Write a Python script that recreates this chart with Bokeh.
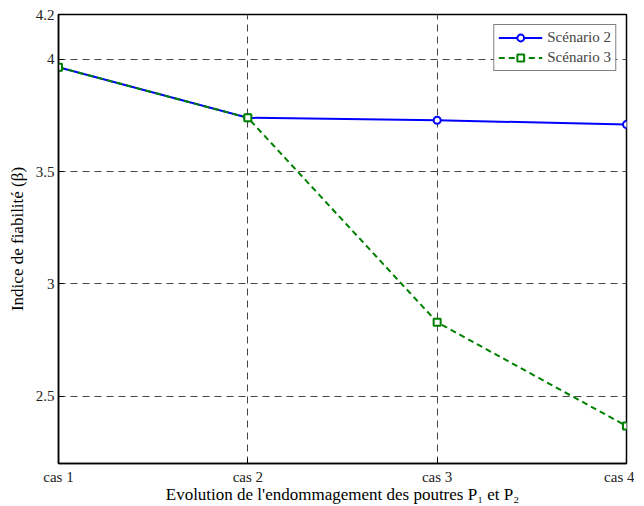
from bokeh.plotting import figure
from bokeh.models import Legend, LegendItem, FixedTicker, Range1d
from bokeh.embed import file_html
from bokeh.resources import INLINE

cases = [1, 2, 3, 4]
case_labels = ["cas 1", "cas 2", "cas 3", "cas 4"]
scenario2 = [3.965, 3.740, 3.729, 3.710]
scenario3 = [3.965, 3.740, 2.829, 2.367]
y_ticks = [2.5, 3, 3.5, 4, 4.2]

FONT = "Liberation Serif"

p = figure(frame_width=568, frame_height=449, width=634, height=504,
           x_range=Range1d(1, 4), y_range=Range1d(2.2, 4.2),
           output_backend="svg", toolbar_location=None,
           min_border_left=58, min_border_top=14, min_border_right=8, min_border_bottom=41)

p.background_fill_color = "white"
p.border_fill_color = "white"
p.outline_line_color = "black"
p.outline_line_width = 1.5

# axes
p.xaxis.ticker = FixedTicker(ticks=cases)
p.xaxis.major_label_overrides = {c: l for c, l in zip(cases, case_labels)}
p.yaxis.ticker = FixedTicker(ticks=y_ticks)
p.yaxis.major_label_overrides = {2.5: "2.5", 3: "3", 3.5: "3.5", 4: "4", 4.2: "4.2"}
for ax in (p.xaxis[0], p.yaxis[0]):
    ax.axis_line_color = "black"
    ax.axis_line_width = 1.5
    ax.major_tick_in = 5
    ax.major_tick_out = 0
    ax.minor_tick_line_color = None
    ax.major_label_text_font = FONT
    ax.major_label_text_font_size = "15px"
    ax.major_label_text_color = "#222222"
    ax.axis_label_text_font = FONT
    ax.axis_label_text_font_size = "17px"
    ax.axis_label_text_font_style = "normal"
    ax.axis_label_text_color = "black"
p.xaxis.major_label_standoff = 5
p.yaxis.major_label_standoff = 4
p.xaxis.axis_label = "Evolution de l'endommagement des poutres P\u2081 et P\u2082"
p.xaxis.axis_label_standoff = -3
p.yaxis.axis_label = "Indice de fiabilit\u00e9 (\u03b2)"
p.yaxis.axis_label_standoff = 6

# grid
for g in (p.xgrid[0], p.ygrid[0]):
    g.grid_line_color = "#444444"
    g.grid_line_dash = "7 5"
    g.grid_line_width = 1
p.xgrid.ticker = FixedTicker(ticks=cases)
p.ygrid.ticker = FixedTicker(ticks=[2.5, 3, 3.5, 4])

# series
l2 = p.line(cases, scenario2, line_color="#0000ff", line_width=2)
m2 = p.scatter(cases, scenario2, marker="circle", size=7, line_color="#0000ff",
               line_width=2, fill_color="white")
l3 = p.line(cases, scenario3, line_color="#008000", line_width=2, line_dash="6 4")
m3 = p.scatter(cases, scenario3, marker="square", size=7, line_color="#008000",
               line_width=2, fill_color="white")

legend = Legend(items=[LegendItem(label="Sc\u00e9nario 2", renderers=[l2, m2]),
                       LegendItem(label="Sc\u00e9nario 3", renderers=[l3, m3])],
                location="top_right")
legend.label_text_font = FONT
legend.label_text_font_size = "15px"
legend.label_height = 17
legend.glyph_height = 17
legend.glyph_width = 44
legend.spacing = 3
legend.padding = 4
legend.margin = 10
legend.border_line_color = "black"
legend.border_line_width = 1
legend.label_standoff = 5
p.add_layout(legend)

open("out.html", "w").write(file_html(p, INLINE))
